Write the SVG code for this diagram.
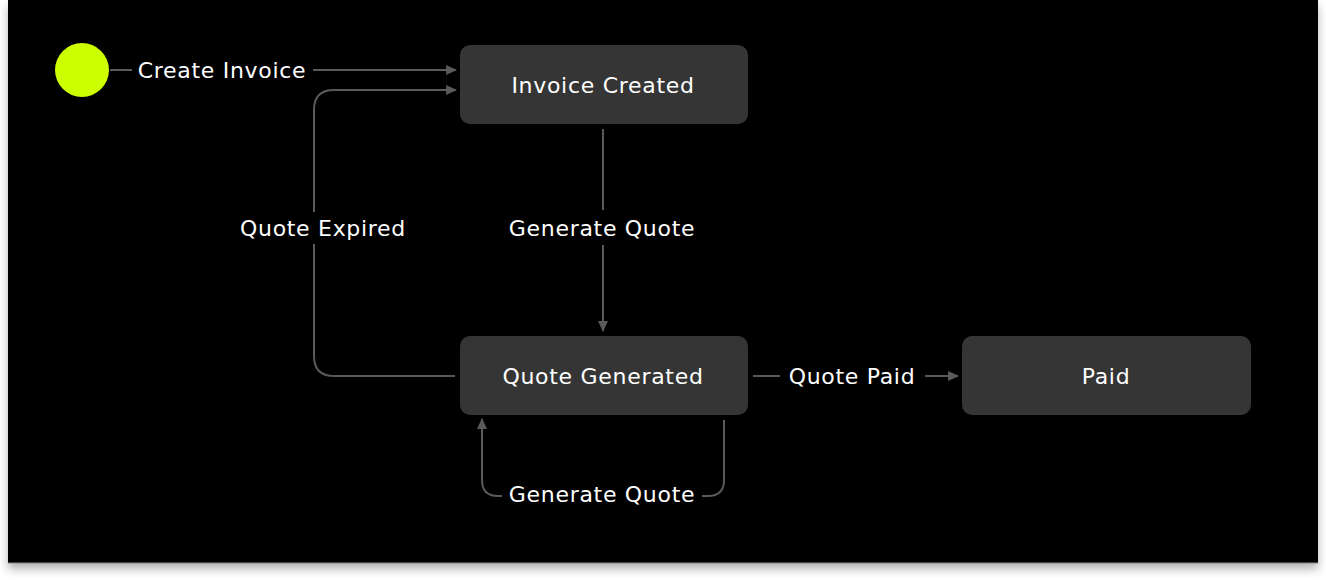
<svg xmlns="http://www.w3.org/2000/svg" width="1326" height="580" viewBox="0 0 1326 580">
<defs>
<filter id="sh" x="-5%" y="-5%" width="110%" height="120%">
<feDropShadow dx="0" dy="6" stdDeviation="5" flood-color="#000" flood-opacity="0.3"/>
</filter>
<marker id="arr" viewBox="0 0 10 10" refX="9" refY="5" markerWidth="11" markerHeight="11" markerUnits="userSpaceOnUse" orient="auto">
<path d="M0,0.5 L10,5 L0,9.5 Z" fill="#5a5a5a"/>
</marker>
<style>
.node rect{fill:#353535}
.lbl{font-family:"DejaVu Sans","Noto Sans",sans-serif;font-size:22px;letter-spacing:0.7px;fill:#ffffff;text-anchor:middle;dominant-baseline:central}
.edge{fill:none;stroke:#5a5a5a;stroke-width:2}
</style>
</defs>
<rect x="0" y="0" width="1326" height="580" fill="#ffffff"/>
<rect x="8" y="0" width="1310" height="563" fill="#000" filter="url(#sh)"/>
<line x1="8" y1="563" x2="1318" y2="563" stroke="#8a8a8a" stroke-width="1"/>
<g id="connectors">
<line class="edge" x1="110" y1="70" x2="132" y2="70"/>
<line class="edge" x1="313" y1="70" x2="456" y2="70" marker-end="url(#arr)"/>
<path class="edge" d="M455,376 H334 Q314,376 314,356 V244"/>
<path class="edge" d="M314,212 V110 Q314,90 334,90 H456" marker-end="url(#arr)"/>
<line class="edge" x1="603" y1="129" x2="603" y2="210"/>
<line class="edge" x1="603" y1="245" x2="603" y2="331" marker-end="url(#arr)"/>
<line class="edge" x1="753" y1="376" x2="780" y2="376"/>
<line class="edge" x1="925" y1="376" x2="958" y2="376" marker-end="url(#arr)"/>
<path class="edge" d="M724,420 V480 Q724,496 708,496 H702"/>
<path class="edge" d="M502,496 H498 Q482,496 482,480 V419" marker-end="url(#arr)"/>
<text class="lbl" x="222" y="70">Create Invoice</text>
<text class="lbl" x="323" y="228">Quote Expired</text>
<text class="lbl" x="602" y="228">Generate Quote</text>
<text class="lbl" x="852" y="376">Quote Paid</text>
<text class="lbl" x="602" y="494">Generate Quote</text>
</g>
<g id="start"><circle cx="82" cy="70" r="27" fill="#ccff00"/></g>
<g id="invoice-created" class="node"><rect x="460" y="45" width="288" height="79" rx="10"/><text class="lbl" x="603" y="85">Invoice Created</text></g>
<g id="quote-generated" class="node"><rect x="460" y="336" width="288" height="79" rx="10"/><text class="lbl" x="603" y="376">Quote Generated</text></g>
<g id="paid" class="node"><rect x="962" y="336" width="289" height="79" rx="10"/><text class="lbl" x="1106" y="376">Paid</text></g>
</svg>
